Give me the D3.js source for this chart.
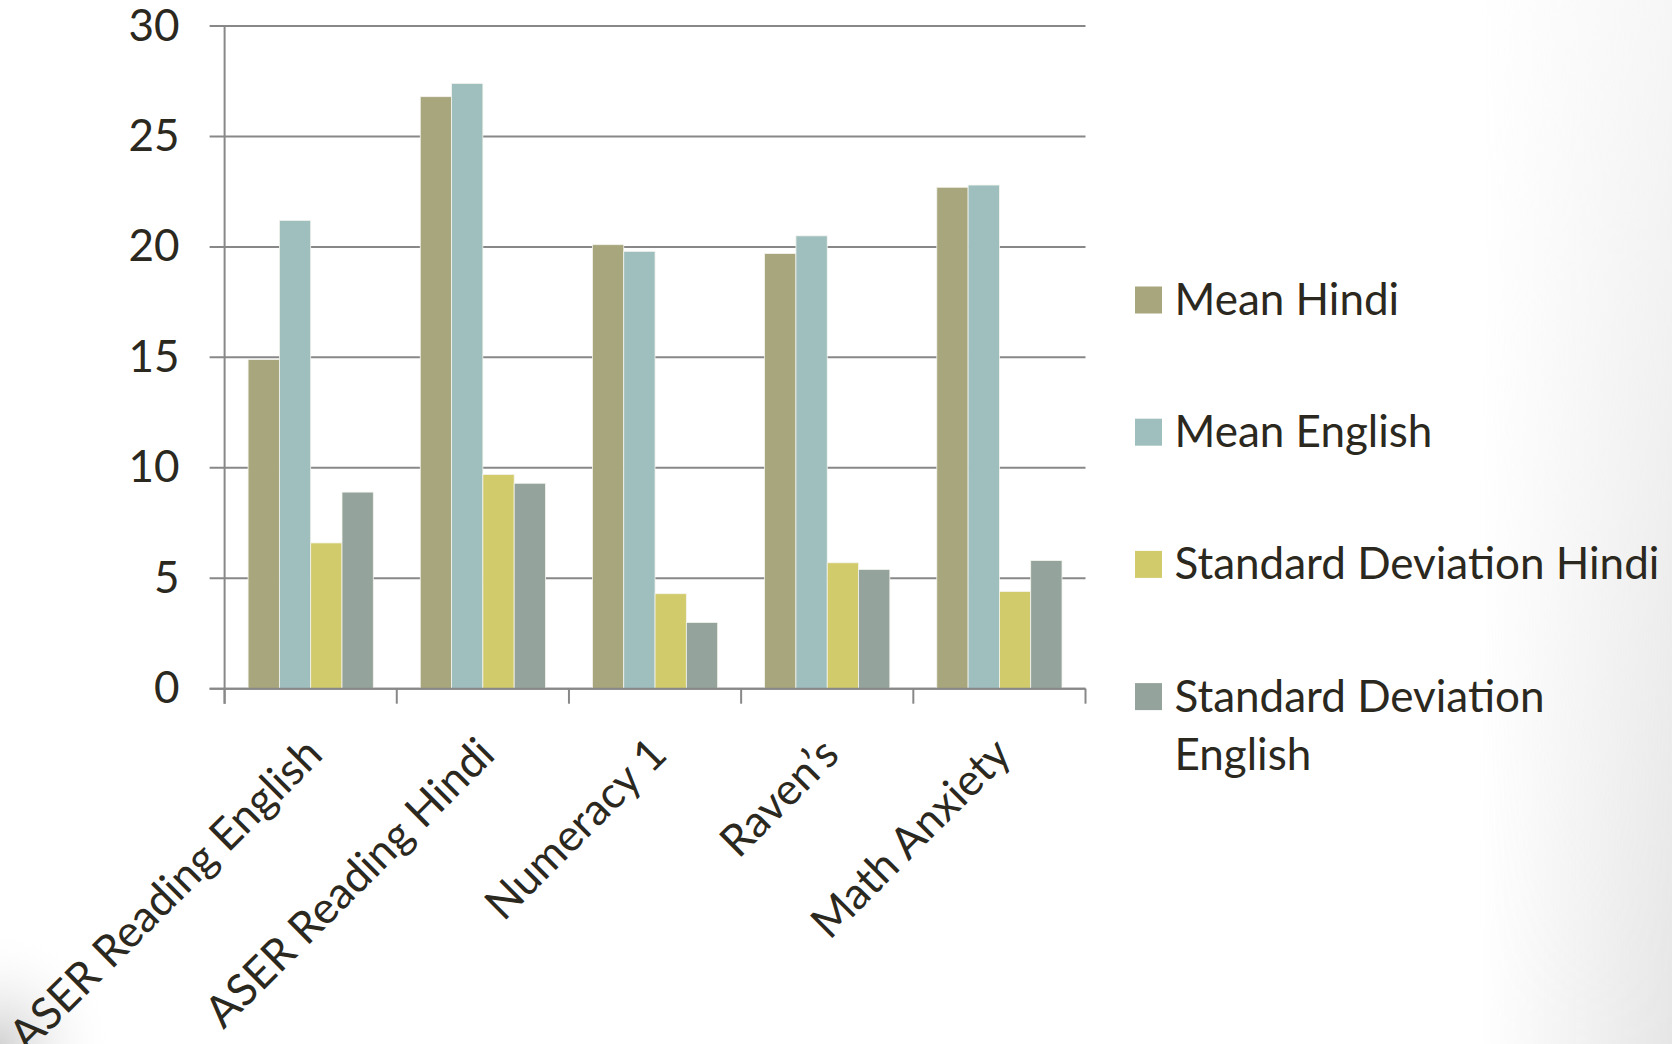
<!DOCTYPE html>
<html>
<head>
<meta charset="utf-8">
<script src="https://cdn.jsdelivr.net/npm/d3@7"></script>
<style>
  html, body { margin: 0; padding: 0; background: #ffffff; }
  svg { display: block; }
  text { font-family: Lato, "Open Sans", sans-serif; fill: #2b2820; }
</style>
</head>
<body>
<svg id="chart" width="1672" height="1044"></svg>
<script>
// Test categories along the x axis
const categories = ["ASER Reading English", "ASER Reading Hindi", "Numeracy 1", "Raven\u2019s", "Math Anxiety"];

// Series names (legend order = bar order inside each group)
const seriesNames = ["Mean Hindi", "Mean English", "Standard Deviation Hindi", "Standard Deviation English"];

// Values per series, one per category
const meanHindi   = [14.9, 26.8, 20.1, 19.7, 22.7];
const meanEnglish = [21.2, 27.4, 19.8, 20.5, 22.8];
const sdHindi     = [6.6, 9.7, 4.3, 5.7, 4.4];
const sdEnglish   = [8.9, 9.3, 3.0, 5.4, 5.8];

// Y axis tick labels
const yTicks = [0, 5, 10, 15, 20, 25, 30];

const seriesValues = [meanHindi, meanEnglish, sdHindi, sdEnglish];
const colors = ["#a8a67c", "#9ebfbe", "#d2cb6c", "#94a39b"];

const W = 1672, H = 1044;
const plot = { left: 224.6, right: 1085.5, top: 26, bottom: 688.7 };

const svg = d3.select("#chart");

// Soft grey shading in the corners of the slide
const defs = svg.append("defs");
const rg = defs.append("radialGradient").attr("id", "cornerShade")
  .attr("cx", 0).attr("cy", 1).attr("r", 0.32);
rg.append("stop").attr("offset", "0").attr("stop-color", "#cfcfcf").attr("stop-opacity", 0.9);
rg.append("stop").attr("offset", "1").attr("stop-color", "#ffffff").attr("stop-opacity", 0);
const lg = defs.append("linearGradient").attr("id", "edgeShade")
  .attr("x1", 0).attr("y1", 0).attr("x2", 1).attr("y2", 0);
lg.append("stop").attr("offset", "0").attr("stop-color", "#e6e6e6").attr("stop-opacity", 0);
lg.append("stop").attr("offset", "1").attr("stop-color", "#e6e6e6").attr("stop-opacity", 1);
const lgv = defs.append("linearGradient").attr("id", "edgeFade")
  .attr("x1", 0).attr("y1", 0).attr("x2", 0).attr("y2", 1);
lgv.append("stop").attr("offset", "0").attr("stop-color", "#fff").attr("stop-opacity", 0.35);
lgv.append("stop").attr("offset", "1").attr("stop-color", "#fff").attr("stop-opacity", 1);
const mask = defs.append("mask").attr("id", "edgeMask");
mask.append("rect").attr("x", 1480).attr("y", 0).attr("width", 192).attr("height", H).attr("fill", "url(#edgeFade)");

svg.append("rect").attr("width", W).attr("height", H).attr("fill", "#ffffff");
svg.append("rect").attr("x", 0).attr("y", H - 360).attr("width", 360).attr("height", 360)
  .attr("fill", "url(#cornerShade)");
svg.append("rect").attr("x", 1480).attr("y", 0).attr("width", 192).attr("height", H)
  .attr("fill", "url(#edgeShade)").attr("mask", "url(#edgeMask)");

// Scales
const x0 = d3.scaleBand().domain(categories).range([plot.left, plot.right]).padding(0);
const x1 = d3.scaleBand().domain(seriesNames).range([0, x0.bandwidth()])
  .paddingInner(0).paddingOuter(0.75);
const y = d3.scaleLinear().domain([0, 30]).range([plot.bottom, plot.top]);

const axisColor = "#888888";

// Horizontal gridlines with outward ticks
svg.append("g").selectAll("line").data(yTicks).join("line")
  .attr("x1", plot.left - 15).attr("x2", plot.right)
  .attr("y1", d => y(d)).attr("y2", d => y(d))
  .attr("stroke", axisColor).attr("stroke-width", 2);

// Y axis labels through d3's axis generator
const yAxis = svg.append("g").attr("transform", `translate(${plot.left},0)`)
  .call(d3.axisLeft(y).tickValues(yTicks).tickSize(0).tickPadding(45).tickFormat(d3.format("d")));
yAxis.select(".domain").remove();
yAxis.selectAll("text")
  .style("font-family", "Lato, 'Open Sans', sans-serif")
  .attr("font-size", 44).attr("fill", "#2b2820");

// Bars
const groups = svg.append("g").selectAll("g").data(categories).join("g")
  .attr("transform", d => `translate(${x0(d)},0)`);
groups.selectAll("rect")
  .data((c, i) => seriesNames.map((s, k) => ({ s, k, v: seriesValues[k][i] })))
  .join("rect")
  .attr("x", d => x1(d.s))
  .attr("width", x1.bandwidth())
  .attr("y", d => y(d.v))
  .attr("height", d => y(0) - y(d.v))
  .attr("fill", d => colors[d.k])
  .attr("stroke", "#f4f4ee").attr("stroke-width", 0.8);

// Y axis line (extends below the baseline as a tick)
svg.append("line")
  .attr("x1", plot.left).attr("x2", plot.left)
  .attr("y1", plot.top).attr("y2", plot.bottom + 15)
  .attr("stroke", axisColor).attr("stroke-width", 2);

// X axis line and boundary ticks
svg.append("line")
  .attr("x1", plot.left - 15).attr("x2", plot.right)
  .attr("y1", plot.bottom).attr("y2", plot.bottom)
  .attr("stroke", axisColor).attr("stroke-width", 2);
const bounds = categories.map(c => x0(c)).concat([plot.right]);
svg.append("g").selectAll("line").data(bounds).join("line")
  .attr("x1", d => d).attr("x2", d => d)
  .attr("y1", plot.bottom).attr("y2", plot.bottom + 15)
  .attr("stroke", axisColor).attr("stroke-width", 2);

// Rotated category labels, ending just under each group
svg.append("g").selectAll("text").data(categories).join("text")
  .attr("transform", d => `translate(${x0(d) + x0.bandwidth() / 2 + 14},${plot.bottom + 68}) rotate(-45)`)
  .attr("text-anchor", "end")
  .attr("font-size", 44)
  .text(d => d);

// Legend
const legendX = 1135, legendTextX = 1174.5, legendTop = 315, legendStep = 132.2, lineH = 58.3, maxW = 500;
const legend = svg.append("g");
seriesNames.forEach((name, k) => {
  const base = legendTop + k * legendStep;
  legend.append("rect")
    .attr("x", legendX).attr("y", base - 28.5)
    .attr("width", 27).attr("height", 27)
    .attr("fill", colors[k]);
  const t = legend.append("text").attr("x", legendTextX).attr("y", base).attr("font-size", 44);
  // wrap long names onto a second line
  const words = name.split(" ");
  let line = [], tspan = t.append("tspan").attr("x", legendTextX).attr("y", base), lineNo = 0;
  words.forEach(w => {
    line.push(w);
    tspan.text(line.join(" "));
    if (tspan.node().getComputedTextLength() > maxW && line.length > 1) {
      line.pop();
      tspan.text(line.join(" "));
      line = [w];
      lineNo += 1;
      tspan = t.append("tspan").attr("x", legendTextX).attr("y", base + lineNo * lineH).text(w);
    }
  });
});
</script>
</body>
</html>
